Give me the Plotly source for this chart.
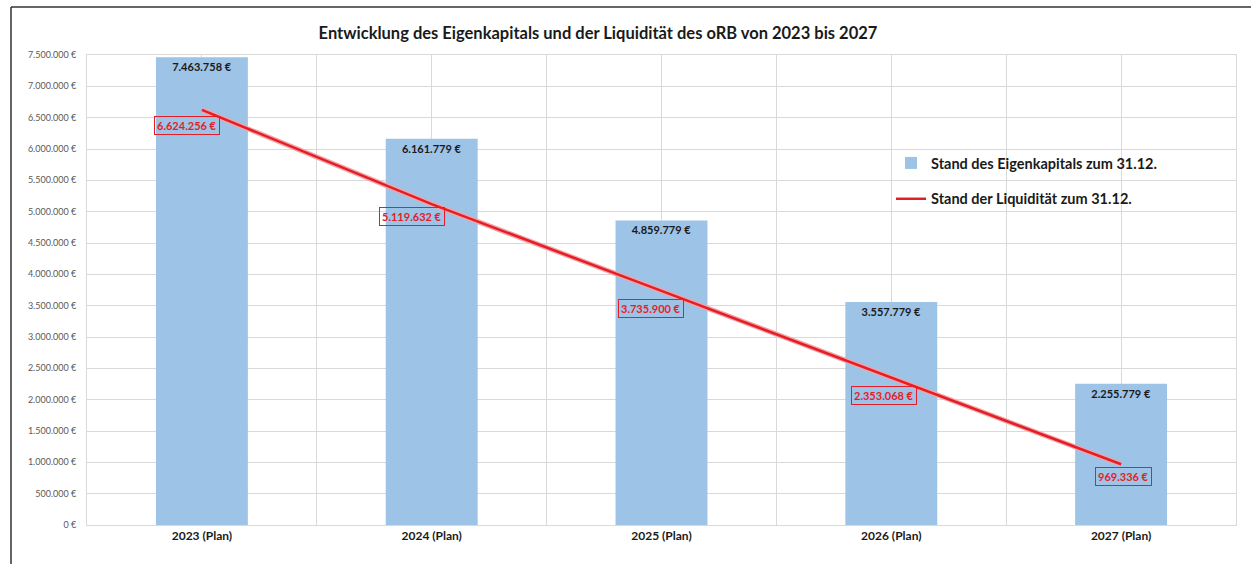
import plotly.graph_objects as go

categories = ["2023 (Plan)", "2024 (Plan)", "2025 (Plan)", "2026 (Plan)", "2027 (Plan)"]
eigenkapital = [7463758, 6161779, 4859779, 3557779, 2255779]
liquiditaet = [6624256, 5119632, 3735900, 2353068, 969336]
y_ticks = [i * 500000 for i in range(16)]

title = "Entwicklung des Eigenkapitals und der Liquidität des oRB von 2023 bis 2027"
name_bar = "Stand des Eigenkapitals zum 31.12."
name_line = "Stand der Liquidität zum 31.12."

# label offsets (pixels) for the liquidity labels
label_shift = [(-15, -16), (-20, -12), (-11, -18), (-7, -18), (2, -12)]


def de(v):
    return f"{v:,.0f}".replace(",", ".") + " €"


xs = list(range(len(categories)))
font = "Lato, 'Open Sans', sans-serif"

fig = go.Figure()
fig.add_trace(go.Bar(
    x=xs, y=eigenkapital, name="<b>" + name_bar + "</b>", width=0.4,
    legendgroup="a",
    marker=dict(color="#9DC3E6", line=dict(width=0)),
    text=[de(v) for v in eigenkapital], texttemplate="<b>%{text}</b>",
    textposition="inside", insidetextanchor="end", constraintext="none",
    textfont=dict(size=11, color="#1a1a1a", family=font),
    hoverinfo="skip",
))
fig.add_trace(go.Scatter(
    x=xs, y=liquiditaet, mode="lines", showlegend=False, legendgroup="b",
    line=dict(color="#F4A3A6", width=5), hoverinfo="skip",
))
fig.add_trace(go.Scatter(
    x=xs, y=liquiditaet, mode="lines", name="<b>" + name_line + "</b>",
    legendgroup="b",
    line=dict(color="#E41E26", width=2.5), hoverinfo="skip",
))

for i, v in enumerate(liquiditaet):
    dx, dy = label_shift[i]
    fig.add_annotation(
        x=xs[i], y=v, xref="x", yref="y", text="<b>" + de(v) + "</b>", showarrow=False,
        xshift=dx, yshift=dy,
        font=dict(size=11, color="#E41E26", family=font),
        bordercolor="#E41E26", borderwidth=1, borderpad=2,
        bgcolor="rgba(0,0,0,0)",
    )

# outer frame lines (top and left)
fig.add_shape(type="line", xref="paper", yref="paper",
              x0=(11 - 87) / 1149, x1=(1251 - 87) / 1149,
              y0=(525 - 7) / 470, y1=(525 - 7) / 470,
              line=dict(color="#333333", width=1.5))
fig.add_shape(type="line", xref="paper", yref="paper",
              x0=(11 - 87) / 1149, x1=(11 - 87) / 1149,
              y0=(525 - 7) / 470, y1=(525 - 564) / 470,
              line=dict(color="#333333", width=1.5))

fig.update_layout(
    width=1251, height=564,
    margin=dict(l=87, r=15, t=55, b=39),
    paper_bgcolor="white", plot_bgcolor="white",
    separators=",.",
    font=dict(family=font),
    title=dict(text="<b>" + title + "</b>", x=598 / 1251, xref="container",
               xanchor="center", y=1 - 33 / 564, yref="container", yanchor="middle",
               font=dict(size=16.5, color="#1a1a1a", family=font)),
    legend=dict(x=(891 - 87) / 1149, y=(525 - 147) / 470, xanchor="left", yanchor="top",
                bgcolor="rgba(0,0,0,0)", font=dict(size=14.5, color="#1a1a1a", family=font),
                tracegroupgap=14, itemwidth=30,
                traceorder="grouped"),
    showlegend=True,
    bargap=0.6,
)
fig.update_xaxes(
    range=[-0.5, len(categories) - 0.5], tickvals=xs,
    ticktext=["<b>" + c + "</b>" for c in categories],
    tickfont=dict(size=12, color="#1a1a1a", family=font),
    showgrid=True, gridcolor="#D9D9D9", gridwidth=1,
    minor=dict(tickvals=[x - 0.5 for x in xs] + [len(xs) - 0.5], showgrid=True,
               gridcolor="#D9D9D9", gridwidth=1),
    showline=True, linecolor="#D9D9D9", mirror=True, ticks="", zeroline=False,
)
fig.update_yaxes(
    range=[0, 7500000], tickvals=y_ticks, ticktext=[de(v) for v in y_ticks],
    tickfont=dict(size=9, color="#595959", family=font), ticklabelstandoff=8,
    showgrid=True, gridcolor="#D9D9D9", gridwidth=1,
    showline=True, linecolor="#D9D9D9", mirror=True, ticks="", zeroline=False,
)

fig.write_html("out.html", config={"displayModeBar": False},
               post_script="document.body.style.margin='0';")
